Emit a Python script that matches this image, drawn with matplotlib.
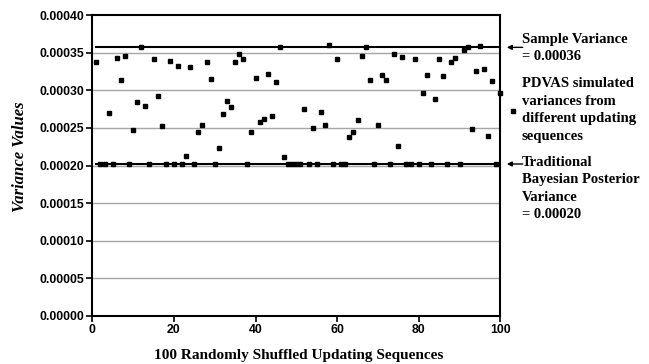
import matplotlib
matplotlib.use("Agg")
import matplotlib.pyplot as plt
import numpy as np

# ---- data ----
sequence = list(range(1, 101))
pdvas_variance = [
    0.000338, 0.000202, 0.000202, 0.000270, 0.000202, 0.000343, 0.000314, 0.000345, 0.000202, 0.000247,
    0.000285, 0.000357, 0.000279, 0.000202, 0.000341, 0.000292, 0.000252, 0.000202, 0.000339, 0.000202,
    0.000332, 0.000202, 0.000213, 0.000331, 0.000202, 0.000244, 0.000254, 0.000338, 0.000315, 0.000202,
    0.000223, 0.000269, 0.000286, 0.000278, 0.000337, 0.000348, 0.000341, 0.000202, 0.000244, 0.000316,
    0.000258, 0.000262, 0.000322, 0.000266, 0.000311, 0.000358, 0.000211, 0.000202, 0.000202, 0.000202,
    0.000202, 0.000275, 0.000202, 0.000250, 0.000202, 0.000271, 0.000254, 0.000360, 0.000202, 0.000341,
    0.000202, 0.000202, 0.000238, 0.000244, 0.000260, 0.000345, 0.000357, 0.000313, 0.000202, 0.000254,
    0.000320, 0.000313, 0.000202, 0.000348, 0.000226, 0.000344, 0.000202, 0.000202, 0.000341, 0.000202,
    0.000296, 0.000320, 0.000202, 0.000288, 0.000341, 0.000319, 0.000202, 0.000337, 0.000343, 0.000202,
    0.000354, 0.000357, 0.000248, 0.000325, 0.000359, 0.000328, 0.000239, 0.000312, 0.000202, 0.000297,
]
sample_variance = 0.000357
bayes_variance = 0.000202
line_x = [1, 100]
x_ticks = [0, 20, 40, 60, 80, 100]
y_ticks = [0.0, 0.00005, 0.0001, 0.00015, 0.0002, 0.00025, 0.0003, 0.00035, 0.0004]

legend_sample = "Sample Variance\n= 0.00036"
legend_pdvas = "PDVAS simulated\nvariances from\ndifferent updating\nsequences"
legend_bayes = "Traditional\nBayesian Posterior\nVariance\n= 0.00020"
x_label = "100 Randomly Shuffled Updating Sequences"
y_label = "Variance Values"

# ---- figure ----
W, H = 649, 364
fig = plt.figure(figsize=(W / 100, H / 100), dpi=100)
ax = fig.add_axes([92.3 / W, 1 - 316 / H, (500.3 - 92.3) / W, (316 - 15) / H])

serif = "Liberation Serif"
sans = "Liberation Sans"

for v in y_ticks[1:-1]:
    ax.axhline(v, color="#a6a6a6", lw=1.0, zorder=1)

ax.plot(line_x, [sample_variance] * 2, color="black", lw=1.5, zorder=2)
ax.plot(line_x, [bayes_variance] * 2, color="black", lw=1.5, zorder=2)
ax.plot(sequence, pdvas_variance, linestyle="none", marker="s", markersize=3.3,
        color="black", zorder=3, clip_on=False)

ax.set_xlim(0, 100)
ax.set_ylim(0, 0.0004)
ax.set_xticks(x_ticks)
ax.set_yticks(y_ticks)
ax.set_yticklabels([f"{v:.5f}" for v in y_ticks])
for lab in ax.get_xticklabels() + ax.get_yticklabels():
    lab.set_fontfamily(sans)
    lab.set_fontweight("bold")
    lab.set_fontsize(8.8)
ax.tick_params(direction="out", length=4, width=1.2, pad=2)
for s in ax.spines.values():
    s.set_linewidth(1.5)

def px(x, y):
    return x / W, 1 - y / H

fig.text(*px(20, 157), y_label, rotation=90, ha="center", va="center",
         family=serif, style="italic", fontweight="bold", fontsize=12)
fig.text(*px(299, 355), x_label, ha="center", va="center",
         family=serif, fontweight="bold", fontsize=11)

# legend-like annotations
fs_leg = 10.5
ls_leg = 1.45
fig.text(*px(522, 48), legend_sample, ha="left", va="center",
         family=serif, fontweight="bold", fontsize=fs_leg, linespacing=ls_leg)
fig.text(*px(522, 110), legend_pdvas, ha="left", va="center",
         family=serif, fontweight="bold", fontsize=fs_leg, linespacing=ls_leg)
fig.text(*px(522, 156), legend_bayes, ha="left", va="top",
         family=serif, fontweight="bold", fontsize=fs_leg, linespacing=ls_leg)

fig.lines.append(plt.Line2D([513 / W], [1 - 111 / H], marker="s", markersize=3.3,
                            color="black", transform=fig.transFigure, linestyle="none"))
for yv in (sample_variance, bayes_variance):
    ax.annotate("", xy=(101.6, yv), xytext=(105.5, yv), xycoords="data",
                annotation_clip=False,
                arrowprops=dict(arrowstyle="-|>", color="black", lw=1.0,
                                mutation_scale=7, shrinkA=0, shrinkB=0))

fig.savefig("out.png", dpi=100)
